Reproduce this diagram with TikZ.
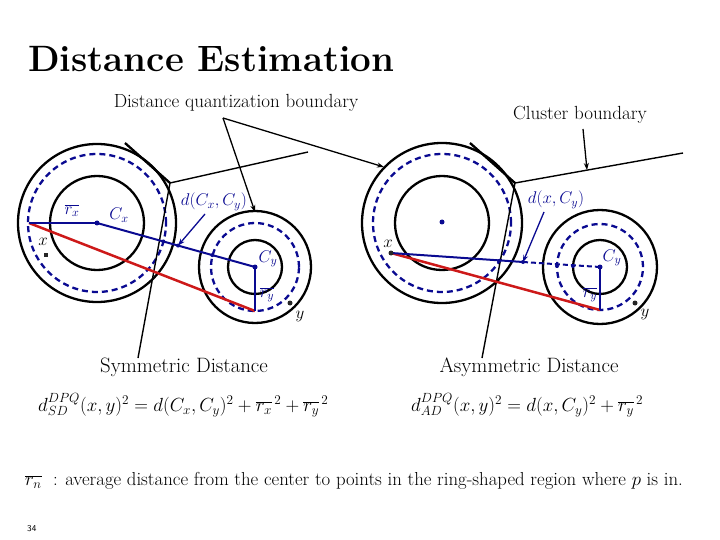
\RequirePackage{fix-cm}
\documentclass[tikz,border=0pt]{standalone}
\usetikzlibrary{arrows.meta,calc}
\definecolor{navy}{RGB}{10,10,145}
\definecolor{dred}{RGB}{205,25,25}
\tikzset{ring/.style={draw,line width=2.3pt},
         qring/.style={draw=navy,line width=2.3pt,dash pattern=on 6pt off 4pt},
         rad/.style={navy,line width=2.8pt},
         link/.style={navy,line width=2pt},
         est/.style={dred,line width=2.5pt},
         bound/.style={line width=1.4pt},
         pointer/.style={line width=1.3pt,-{Stealth[length=7pt,width=5pt]}},
         bpointer/.style={navy,line width=1.3pt,-{Stealth[length=7pt,width=5pt]}},
         lbl/.style={font=\fontsize{19}{22}\selectfont,inner sep=0pt},
         blbl/.style={text=navy,font=\fontsize{17}{20}\selectfont,inner sep=0pt},
         klbl/.style={font=\fontsize{17}{20}\selectfont,inner sep=0pt},
         bdot/.style={circle,fill=navy,inner sep=0pt,minimum size=5pt},
         kdot/.style={circle,fill=black!85,inner sep=0pt,minimum size=5pt}}

\begin{document}
\begin{tikzpicture}[x=1pt,y=-1pt]
\useasboundingbox (0,0) rectangle (720,540);

% title
\node[anchor=base west,inner sep=0pt,font=\fontsize{36.7}{42}\selectfont\bfseries] (title) at (28,72) {Distance Estimation};

% ---- symmetric distance ----
\coordinate (CxL) at (97,223);
\coordinate (CyL) at (255,267);
\coordinate (rxL) at (29,223);
\coordinate (ryL) at (255,311);
\draw[ring] (CxL) circle (79pt);
\draw[qring] (CxL) circle (69pt);
\draw[ring] (CxL) circle (47pt);
\draw[ring] (CyL) circle (56pt);
\draw[qring] (CyL) circle (44pt);
\draw[ring] (CyL) circle (27pt);
% cluster boundary
\coordinate (vL) at (170,183);
\coordinate (b1L) at (125,143);
\coordinate (b2L) at (138,358);
\coordinate (b3L) at (308,152);
\draw[ring] (b1L) -- (vL);
\draw[bound] (vL) -- (b2L);
\draw[bound] (vL) -- (b3L);
% distances
\draw[est] (rxL) -- (ryL);
\draw[rad] (rxL) -- (CxL);
\draw[link] (CxL) -- (CyL);
\draw[rad] (CyL) -- (ryL);
\coordinate (tipL) at ($(CxL)!0.513!(CyL)$);
\node[bdot] (cxdL) at (CxL) {};
\node[bdot] (cydL) at (CyL) {};
\node[bdot,minimum size=4pt] (m1L) at ($(CxL)!0.42!(CyL)$) {};
\node[bdot,minimum size=4pt] (m2L) at (tipL) {};
\node[bdot,minimum size=4pt] (m3L) at ($(CxL)!0.73!(CyL)$) {};
\node[rectangle,fill=black!85,inner sep=0pt,minimum size=4pt] (xdL) at (46,255) {};
\node[kdot] (ydL) at (290,303) {};
\node[blbl] (cxL) at (119,215) {$C_x$};
\node[blbl] (rxlL) at (72,211) {$\overline{r_x}$};
\node[blbl] (cylL) at (268,259) {$C_y$};
\node[blbl] (rylL) at (267,295) {$\overline{r_y}$};
\node[klbl] (xlL) at (43,242) {$x$};
\node[klbl] (ylL) at (300,316) {$y$};
\node[blbl] (dL) at (214,202) {$d(C_x,C_y)$};
\coordinate (dsL) at (205,214);
\draw[bpointer] (dsL) -- (tipL);

% ---- asymmetric distance ----
\coordinate (CxR) at (442,223);
\coordinate (CyR) at (600,267);
\coordinate (xR) at (391,253);
\coordinate (ryR) at (600,310);
\draw[ring] (CxR) circle (80pt);
\draw[qring] (CxR) circle (69pt);
\draw[ring] (CxR) circle (47pt);
\draw[ring] (CyR) circle (57pt);
\draw[qring] (CyR) circle (43pt);
\draw[ring] (CyR) circle (27pt);
% cluster boundary
\coordinate (vR) at (515,183);
\coordinate (b1R) at (470,143);
\coordinate (b2R) at (482,358);
\coordinate (b3R) at (683,153);
\draw[ring] (b1R) -- (vR);
\draw[bound] (vR) -- (b2R);
\draw[bound] (vR) -- (b3R);
% distances
\coordinate (tipR) at (523,262);
\draw[est] (xR) -- (ryR);
\draw[link] (xR) -- (tipR);
\draw[link,dash pattern=on 5pt off 3pt] (tipR) -- (CyR);
\draw[rad] (CyR) -- (ryR);
\node[bdot] (cxdR) at (442,222) {};
\node[bdot] (cydR) at (CyR) {};
\node[bdot,minimum size=4pt] (m1R) at (499,261) {};
\node[bdot,minimum size=4pt] (m2R) at (tipR) {};
\node[bdot,minimum size=4pt] (m3R) at (557,266) {};
\node[bdot,minimum size=4pt] (m4R) at (573,266) {};
\node[kdot] (xdR) at (xR) {};
\node[kdot] (ydR) at (635,303) {};
\node[blbl] (cylR) at (612,258) {$C_y$};
\node[blbl] (rylR) at (590,295) {$\overline{r_y}$};
\node[klbl] (xlR) at (388,244) {$x$};
\node[klbl] (ylR) at (645,314) {$y$};
\node[blbl] (dR) at (556,200) {$d(x,C_y)$};
\coordinate (dsR) at (544,212);
\draw[bpointer] (dsR) -- (tipR);

% pointers
\node[lbl] (qlbl) at (236,103) {Distance quantization boundary};
\coordinate (qo) at (223,118);
\coordinate (qt1) at (255,212);
\coordinate (qt2) at (384,167);
\draw[pointer] (qo) -- (qt1);
\draw[pointer] (qo) -- (qt2);
\node[lbl] (clbl) at (580,115) {Cluster boundary};
\coordinate (co) at (583,129);
\coordinate (ct) at (587,170);
\draw[pointer] (co) -- (ct);

% captions and formulas
\node[lbl,font=\fontsize{20.8}{24}\selectfont] (symm) at (184,367) {Symmetric Distance};
\node[lbl,font=\fontsize{20.8}{24}\selectfont] (asym) at (529,367) {Asymmetric Distance};
\node[lbl,anchor=west,font=\fontsize{19}{22}\selectfont] (fsd) at (38,405)
  {$d^{DPQ}_{SD}(x,y)^2 = d(C_x,C_y)^2 + \overline{r_x}^{\,2} + \overline{r_y}^{\,2}$};
\node[lbl,anchor=west,font=\fontsize{19}{22}\selectfont] (fad) at (411,405)
  {$d^{DPQ}_{AD}(x,y)^2 = d(x,C_y)^2 + \overline{r_y}^{\,2}$};
\node[lbl,anchor=west,font=\fontsize{18.8}{22}\selectfont] (note) at (25,481)
  {$\overline{r_n}$ \ : average distance from the center to points in the ring-shaped region where $p$ is in.};
\node[anchor=west,inner sep=0pt,font=\sffamily\fontsize{9}{10}\selectfont] (page) at (27,529) {34};
\end{tikzpicture}
\end{document}
